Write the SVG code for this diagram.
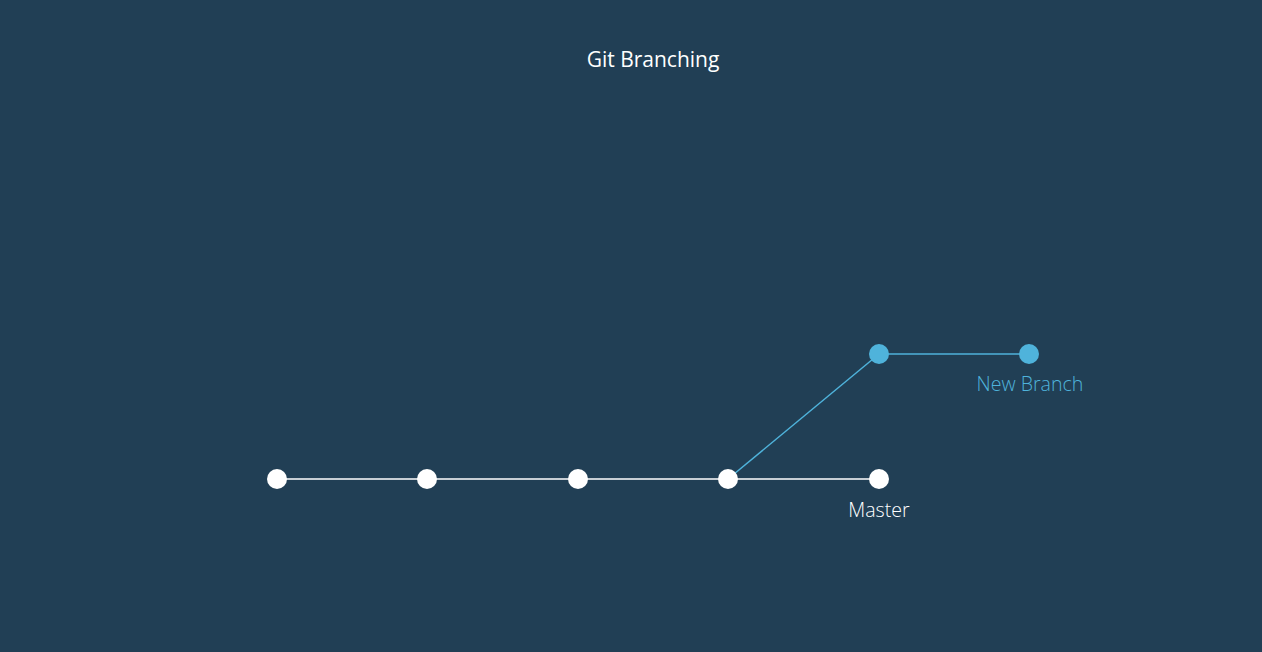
<svg xmlns="http://www.w3.org/2000/svg" width="1262" height="652" viewBox="0 0 1262 652">
<style>
text{font-family:"Open Sans","Noto Sans",sans-serif;text-anchor:middle}
.w{fill:#ffffff}
.b{fill:#4fb3db}
.lw{stroke:#ffffff;stroke-width:1.5;fill:none}
.lb{stroke:#4fb3db;stroke-width:1.5;fill:none}
</style>
<rect width="1262" height="652" fill="#213f55"/>
<text x="653" y="67" class="w" font-size="21">Git Branching</text>
<g id="connectors">
<line class="lw" x1="277" y1="479" x2="879" y2="479"/>
<line class="lb" x1="728" y1="479" x2="879" y2="354"/>
<line class="lb" x1="879" y1="354" x2="1029" y2="354"/>
</g>
<g id="c1"><circle class="w" cx="277" cy="479" r="10"/></g>
<g id="c2"><circle class="w" cx="427" cy="479" r="10"/></g>
<g id="c3"><circle class="w" cx="578" cy="479" r="10"/></g>
<g id="c4"><circle class="w" cx="728" cy="479" r="10"/></g>
<g id="master"><circle class="w" cx="879" cy="479" r="10"/><text x="879" y="517" class="w" font-size="19.6" font-weight="300">Master</text></g>
<g id="b1"><circle class="b" cx="879" cy="354" r="10"/></g>
<g id="newbranch"><circle class="b" cx="1029" cy="354" r="10"/><text x="1030" y="391" class="b" font-size="19.6" font-weight="300">New Branch</text></g>
</svg>
